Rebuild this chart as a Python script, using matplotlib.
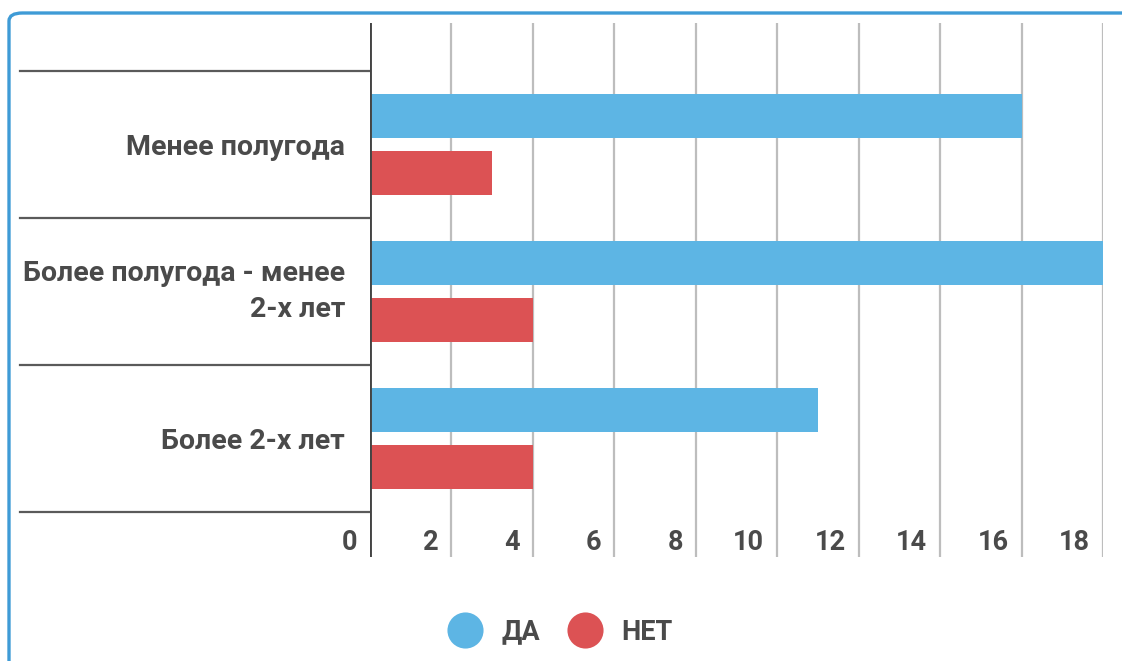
import matplotlib
matplotlib.use("Agg")
import matplotlib.pyplot as plt
import numpy as np
from matplotlib.patches import FancyBboxPatch
from matplotlib.lines import Line2D
from matplotlib.transforms import blended_transform_factory, offset_copy

# Данные опроса
categories = ["Менее полугода", "Более полугода - менее\n2-х лет", "Более 2-х лет"]
yes_values = [16, 18, 11]
no_values = [3, 4, 4]
series_names = ["ДА", "НЕТ"]
x_ticks = [0, 2, 4, 6, 8, 10, 12, 14, 16, 18]

BLUE = "#5db5e4"
RED = "#dc5254"
TEXT = "#4a4a4a"
FRAME = "#3f9bd6"
FS = 19.5        # подписи оси и легенды
FS_CAT = 20.5    # подписи категорий
WEIGHT = "bold"

plt.rcParams["font.family"] = ["Roboto", "DejaVu Sans"]

W, H = 1122, 661
fig = plt.figure(figsize=(W / 100, H / 100), dpi=100)
fig.patch.set_facecolor("white")

# Рамка с закруглённым углом (уходит за правый и нижний край)
frame = FancyBboxPatch((9 / W, 1 - 700 / H), 1200 / W, (700 - 13) / H,
                       boxstyle="round,pad=0,rounding_size=0.012",
                       transform=fig.transFigure, facecolor="none",
                       edgecolor=FRAME, lw=2.4, zorder=0)
fig.patches.append(frame)

# Область графика
left, right, top, bottom = 370, 1103, 23, 557
ax = fig.add_axes([left / W, 1 - bottom / H, (right - left) / W, (bottom - top) / H])
ax.set_facecolor("none")

y = np.arange(len(categories))
band = 147.0
ax.set_xlim(0, 18)
ax.set_ylim(2.5 + (bottom - 512) / band, -0.5 - (71 - top) / band)

off = 0.194
h = 0.30
ax.barh(y - off, yes_values, height=h, color=BLUE, zorder=3)
ax.barh(y + off, no_values, height=h, color=RED, zorder=3)

# Вертикальная сетка
for xv in x_ticks[1:]:
    ax.axvline(xv, color="#bdbdbd", lw=1.6, zorder=1)
ax.axvline(0, color="#444444", lw=2.8, zorder=4)

for s in ax.spines.values():
    s.set_visible(False)

# Горизонтальные разделители категорий слева от оси
tr = blended_transform_factory(ax.transAxes, ax.transData)
x0 = (20 - left) / (right - left)
for yb in np.arange(-0.5, len(categories), 1.0):
    ax.plot([x0, 0], [yb, yb], transform=tr, color="#5a5a5a", lw=1.6,
            clip_on=False, zorder=2)

# Подписи категорий
ax.set_yticks(y)
ax.set_yticklabels(categories, fontsize=FS_CAT, fontweight=WEIGHT, color=TEXT,
                   linespacing=1.4)
ax.tick_params(axis="y", length=0, pad=18)
for lbl in ax.get_yticklabels():
    if "\n" in lbl.get_text():
        lbl.set_verticalalignment("center")

# Подписи оси X слева от линий сетки
ax.set_xticks([])
tick_tr = offset_copy(blended_transform_factory(ax.transData, ax.transAxes),
                      fig=fig, x=-13, y=0, units="dots")
for xv in x_ticks:
    ax.text(xv, (bottom - 550) / (bottom - top), str(xv), transform=tick_tr,
            ha="right", va="baseline", fontsize=FS, fontweight=WEIGHT,
            color=TEXT)

# Легенда
handles = [Line2D([], [], ls="none", marker="o", markersize=26,
                  markerfacecolor=c, markeredgecolor="none")
           for c in (BLUE, RED)]
fig.legend(handles, series_names, loc="center",
           bbox_to_anchor=(560 / W, 1 - 632 / H), ncol=2, frameon=False,
           prop={"size": FS, "weight": WEIGHT}, labelcolor=TEXT,
           handlelength=1.3, handletextpad=0.7, columnspacing=1.0)

fig.savefig("out.png", dpi=100)
